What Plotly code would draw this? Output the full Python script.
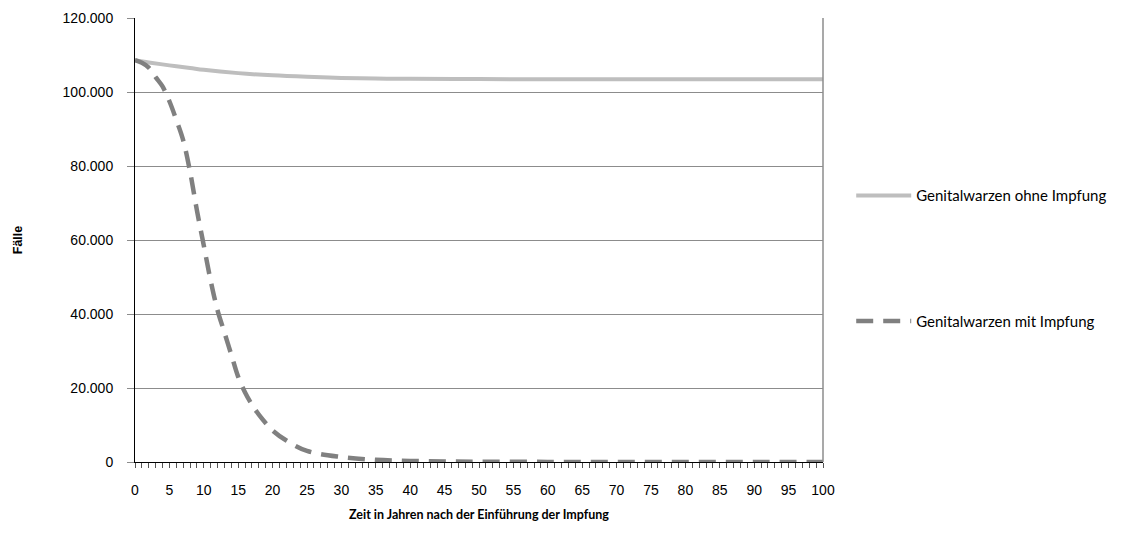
import plotly.graph_objects as go

# Data
years_ohne = [0, 2, 5, 8, 10, 15, 20, 25, 30, 35, 40, 50, 60, 70, 80, 90, 100]
cases_ohne = [108600, 108000, 107200, 106500, 106000, 105100, 104500, 104100, 103800,
              103650, 103550, 103500, 103450, 103450, 103450, 103450, 103450]

years_mit = [0, 1, 2, 3, 4, 5, 6, 7, 8, 9, 10, 11, 12, 13, 14, 15, 16, 17, 18, 20, 22,
             25, 30, 35, 40, 45, 50, 60, 70, 80, 90, 100]
cases_mit = [108600, 107900, 106600, 104000, 101500, 97500, 92500, 87000, 78500, 68000,
             58500, 49000, 41000, 35000, 29000, 23000, 18800, 15500, 12800, 8500, 5800,
             3000, 1350, 600, 300, 150, 80, 30, 10, 0, 0, 0]

name_ohne = "Genitalwarzen ohne Impfung"
name_mit = "Genitalwarzen mit Impfung"
x_title = "Zeit in Jahren nach der Einführung der Impfung"
y_title = "Fälle"

fig = go.Figure()
fig.add_trace(go.Scatter(x=years_ohne, y=cases_ohne, name=name_ohne, mode="lines",
                         line=dict(color="#BEBEBE", width=4, shape="spline"),
                         legendgroup="a"))
fig.add_trace(go.Scatter(x=years_mit, y=cases_mit, name=name_mit, mode="lines",
                         line=dict(color="#808080", width=4.5, dash="17px,10px", shape="spline"),
                         legendgroup="b"))

fig.update_layout(
    width=1107, height=532,
    margin=dict(l=127, r=292, t=10, b=78, autoexpand=False),
    paper_bgcolor="white", plot_bgcolor="white",
    separators=",.",
    font=dict(family="Liberation Sans, Arial", size=14, color="black"),
    showlegend=True,
    legend=dict(x=1.041, y=0.637, xanchor="left", yanchor="top",
                font=dict(family="Lato, Carlito, Calibri", size=15, color="black"),
                tracegroupgap=103, itemwidth=55, bgcolor="rgba(0,0,0,0)"),
    xaxis=dict(range=[0, 100], tickmode="linear", tick0=0, dtick=5,
               showgrid=False, zeroline=False,
               showline=True, linecolor="black", linewidth=1,
               ticks="outside", ticklen=5, tickcolor="#555555",
               minor=dict(dtick=1, ticks="outside", ticklen=5, tickcolor="#555555", showgrid=False),
               tickfont=dict(family="Liberation Sans, Arial", size=14), ticklabelstandoff=10,
               title=dict(text="<b>" + x_title + "</b>", standoff=13,
                          font=dict(family="Lato, Carlito, Calibri", size=12.5))),
    yaxis=dict(range=[0, 120000], tickmode="linear", tick0=0, dtick=20000,
               tickformat=",.0f",
               showgrid=True, gridcolor="#8C8C8C", gridwidth=1, zeroline=False,
               showline=True, linecolor="black", linewidth=1,
               ticks="outside", ticklen=7, tickcolor="#8C8C8C",
               tickfont=dict(family="Liberation Sans, Arial", size=14), ticklabelstandoff=11,
               title=dict(text="<b>" + y_title + "</b>", standoff=37,
                          font=dict(family="Liberation Sans, Arial", size=12.5))),
)
fig.add_shape(type="line", xref="paper", yref="paper", x0=1, x1=1, y0=0, y1=1,
              line=dict(color="#8C8C8C", width=1.5))

fig.write_html("out.html")
